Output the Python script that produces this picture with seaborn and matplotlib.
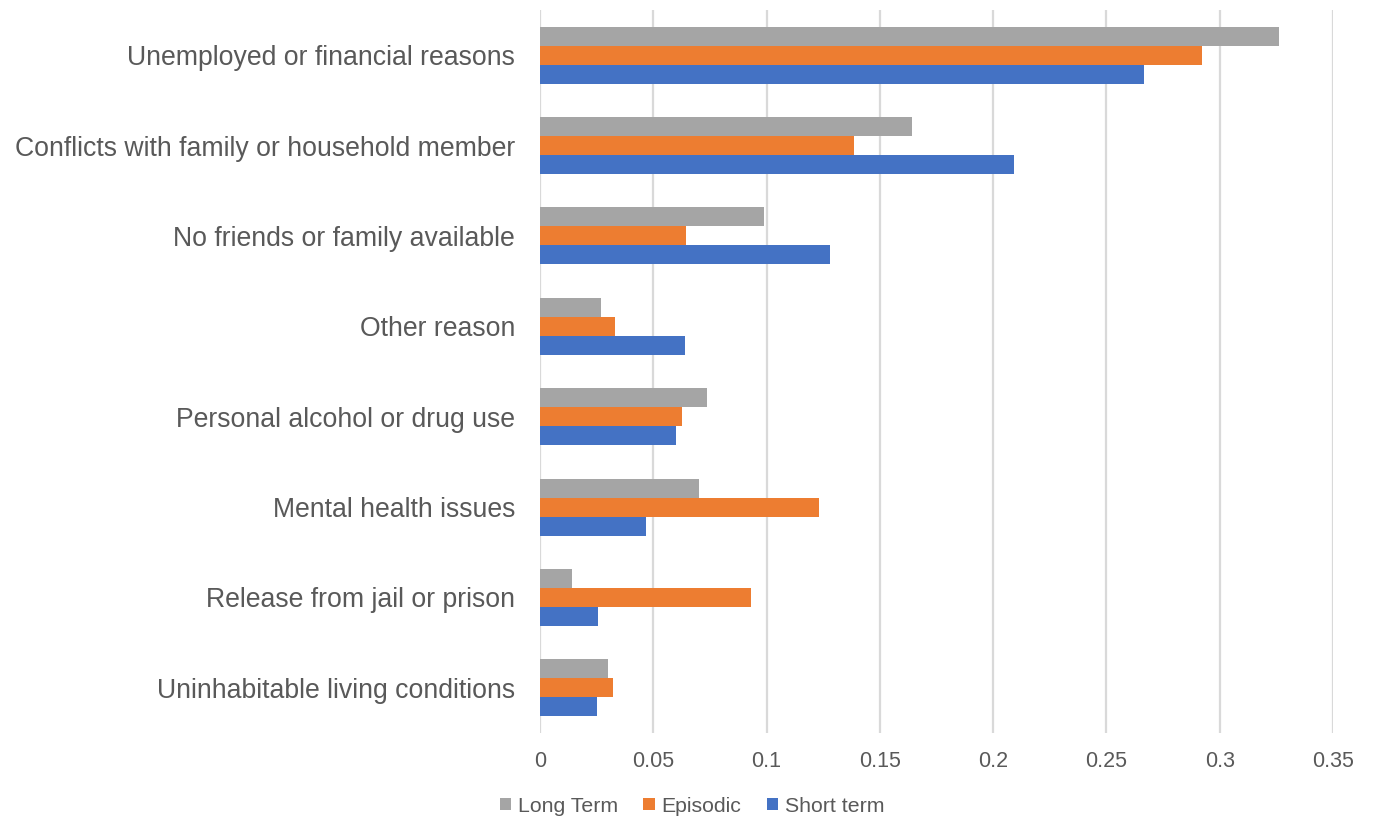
import matplotlib
matplotlib.use("Agg")
import matplotlib.pyplot as plt
import seaborn as sns
import pandas as pd
from matplotlib.patches import Patch

categories = [
    "Unemployed or financial reasons",
    "Conflicts with family or household member",
    "No friends or family available",
    "Other reason",
    "Personal alcohol or drug use",
    "Mental health issues",
    "Release from jail or prison",
    "Uninhabitable living conditions",
]
series_names = ["Long Term", "Episodic", "Short term"]
long_term = [0.326, 0.164, 0.099, 0.027, 0.0735, 0.070, 0.014, 0.030]
episodic = [0.292, 0.1385, 0.0645, 0.033, 0.0625, 0.123, 0.093, 0.032]
short_term = [0.2665, 0.209, 0.128, 0.064, 0.060, 0.047, 0.0255, 0.025]
x_ticks = [0, 0.05, 0.1, 0.15, 0.2, 0.25, 0.3, 0.35]
x_tick_labels = ["0", "0.05", "0.1", "0.15", "0.2", "0.25", "0.3", "0.35"]
colors = ["#A5A5A5", "#ED7D31", "#4472C4"]

rows = []
for name, vals in zip(series_names, [long_term, episodic, short_term]):
    for c, v in zip(categories, vals):
        rows.append({"category": c, "series": name, "value": v})
df = pd.DataFrame(rows)

sns.set_style("white")
plt.rcParams["font.family"] = ["Liberation Sans", "DejaVu Sans"]
text_color = "#595959"

fig = plt.figure(figsize=(13.75, 8.25), dpi=100)
ax = fig.add_axes([540 / 1375, 1 - 733 / 825, (1333 - 540) / 1375, (733 - 10) / 825])

sns.barplot(data=df, y="category", x="value", hue="series", order=categories,
            hue_order=series_names, palette=colors, orient="h", width=0.63,
            saturation=1, ax=ax, legend=False, edgecolor="none")

ax.set_xlim(0, 0.35)
ax.set_ylim(7.5, -0.5)
ax.set_xticks(x_ticks)
ax.set_xticklabels(x_tick_labels)
ax.set_xlabel("")
ax.set_ylabel("")
ax.set_axisbelow(True)
ax.grid(axis="x", color="#D9D9D9", linewidth=1.6)
ax.grid(axis="y", visible=False)
for s in ax.spines.values():
    s.set_visible(False)
ax.tick_params(axis="y", length=0, pad=18, labelsize=19.2, labelcolor=text_color)
ax.tick_params(axis="x", length=0, pad=13, labelsize=15.5, labelcolor=text_color)

handles = [Patch(facecolor=c, edgecolor="none") for c in colors]
fig.legend(handles, series_names, loc="center", bbox_to_anchor=(692 / 1375, 1 - 806 / 825),
           ncol=3, frameon=False, fontsize=15.3, labelcolor=text_color,
           handlelength=0.55, handleheight=0.55, handletextpad=0.3, columnspacing=1.2)

fig.savefig("out.png", dpi=100)
